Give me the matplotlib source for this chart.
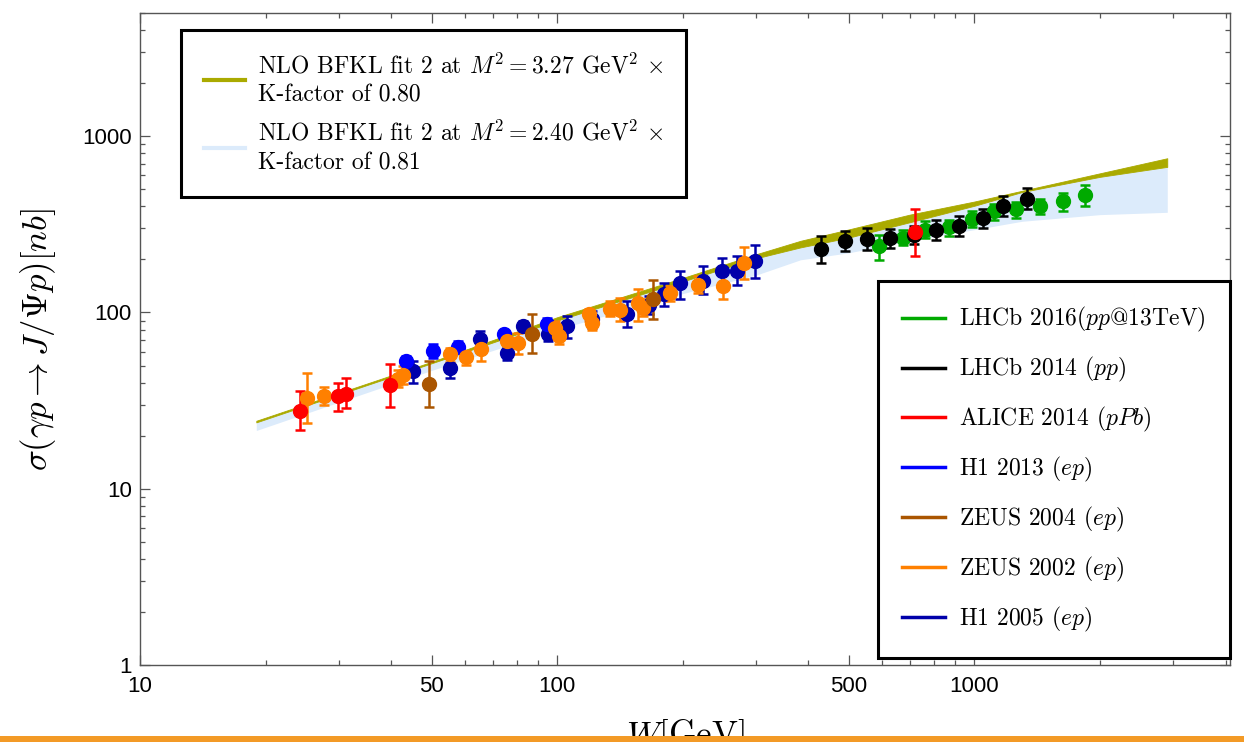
import numpy as np
import matplotlib
matplotlib.use("Agg")
import matplotlib.pyplot as plt
from matplotlib.lines import Line2D
from matplotlib.patches import Rectangle
from matplotlib.ticker import FixedLocator, FixedFormatter, LogLocator, NullFormatter

plt.rcParams["mathtext.fontset"] = "cm"

# theory bands (W in GeV, sigma in nb)
BAND_W   = [19, 50, 100, 200, 300, 383, 500, 700, 1000, 1300, 2000, 2900]
OLIVE_HI = [24.3, 52.5, 94, 157, 214, 255, 296, 359, 426, 490, 616, 750]
OLIVE_LO = [23.8, 51.5, 90, 150, 203, 234, 266, 325, 403, 482, 588, 670]
BLUE_HI  = [23.8, 51.5, 90, 150, 203, 234, 266, 325, 403, 482, 588, 670]
BLUE_LO  = [21.4, 46.9, 80, 128, 163, 199, 218, 255, 295, 329, 359, 370]

# data sets: W, sigma, lower edge, upper edge
H1_2005_W  = [45.2, 55.4, 65.2, 75.6, 83, 95.2, 105.5, 121, 147, 165.6, 179.9, 197.2, 223.4, 248, 270, 298.5]
H1_2005_S  = [46.4, 48.6, 70.3, 59.1, 83.6, 75, 83.6, 91.3, 97.4, 110, 126.5, 147, 150, 171, 171, 195]
H1_2005_LO = [40, 42.6, 63, 54, 78, 68.8, 72, 82, 83, 98, 108.6, 118.6, 126.5, 144, 144, 157]
H1_2005_HI = [53, 51.9, 78, 63, 89, 80, 95, 101.7, 116, 124, 147, 171, 183, 204, 208, 243]

H1_2013_W  = [43.5, 50.4, 58, 74.4, 94.4]
H1_2013_S  = [53, 60.4, 64, 75, 85.5]
H1_2013_LO = [48.6, 55, 59.2, 70.3, 78]
H1_2013_HI = [56.6, 65.9, 68.8, 80, 93.3]

ZEUS02_W  = [25.2, 27.6, 41.5, 42.7, 55.4, 60.5, 65.6, 75.8, 80.7, 99, 101, 118.9, 121, 134, 141.6, 156.6, 160.7, 186.6, 218, 249.6, 279.8]
ZEUS02_S  = [32.6, 33.6, 42, 44, 57.8, 55.8, 62.3, 68.8, 67.3, 81.9, 73.5, 97.4, 87.4, 105, 103, 113.5, 106.7, 129, 144, 141, 191]
ZEUS02_LO = [23.5, 29.7, 38, 39.1, 52.2, 50.1, 53, 61.7, 57.8, 73.5, 65.9, 90, 80, 95, 89, 89, 95, 116, 129, 120, 154]
ZEUS02_HI = [45.5, 37.9, 47, 49.6, 63, 60.4, 71.9, 76.7, 76.7, 89.3, 82, 105, 95, 116, 121, 135, 120, 141, 160, 168, 236]

ZEUS04_W  = [49.4, 86.9, 169.3]
ZEUS04_S  = [39.4, 75, 118.5]
ZEUS04_LO = [29.2, 59, 92]
ZEUS04_HI = [53, 97.4, 152.6]

ALICE_W  = [24.2, 29.9, 31.1, 39.8, 722]
ALICE_S  = [27.6, 33.6, 34.6, 38.6, 285]
ALICE_LO = [21.5, 27.6, 28.8, 29.2, 208]
ALICE_HI = [35.8, 40, 42.3, 50.7, 388]

LHCB14_W  = [428.5, 490.5, 553, 627, 715, 809, 917, 1049, 1172, 1338]
LHCB14_S  = [229.6, 256, 262, 265, 276, 295, 311, 344, 404, 440]
LHCB14_LO = [192, 223, 227, 232, 245, 259, 273, 302, 354, 384]
LHCB14_HI = [270, 289, 302, 298, 310, 336, 354, 387, 456, 509]

LHCB16_W  = [589.5, 674, 760, 867, 988, 1112, 1261, 1435, 1632, 1846]
LHCB16_S  = [237.5, 265, 295, 306, 341, 375, 388, 404, 427, 466]
LHCB16_LO = [199, 240, 265, 272, 306, 336, 343, 364, 374, 404]
LHCB16_HI = [276, 295, 329, 336, 374, 414, 426, 440, 476, 531]

SERIES = [
    (H1_2005_W, H1_2005_S, H1_2005_LO, H1_2005_HI, "#0000aa"),
    (H1_2013_W, H1_2013_S, H1_2013_LO, H1_2013_HI, "#0000ff"),
    (ZEUS02_W, ZEUS02_S, ZEUS02_LO, ZEUS02_HI, "#ff8000"),
    (ZEUS04_W, ZEUS04_S, ZEUS04_LO, ZEUS04_HI, "#aa5500"),
    (LHCB16_W, LHCB16_S, LHCB16_LO, LHCB16_HI, "#00aa00"),
    (LHCB14_W, LHCB14_S, LHCB14_LO, LHCB14_HI, "black"),
    (ALICE_W, ALICE_S, ALICE_LO, ALICE_HI, "#ff0000"),
]

OLIVE = "#aaaa00"
LIGHTBLUE = "#dcebfb"

fig = plt.figure(figsize=(12.44, 7.42), dpi=100)
ax = fig.add_axes([140 / 1244, 77 / 742, 1090 / 1244, 652 / 742])
ax.set_xscale("log")
ax.set_yscale("log")

ax.fill_between(BAND_W, BLUE_LO, BLUE_HI, color=LIGHTBLUE, lw=0, zorder=1)
ax.fill_between(BAND_W, OLIVE_LO, OLIVE_HI, color=OLIVE, lw=0.6, edgecolor=OLIVE, zorder=2)

for w, s, lo, hi, col in SERIES:
    w = np.array(w); s = np.array(s)
    yerr = [s - np.array(lo), np.array(hi) - s]
    ax.errorbar(w, s, yerr=yerr, fmt="o", color=col, ms=10, elinewidth=1.8,
                capsize=3.6, capthick=1.8, zorder=3)

ax.set_xlim(10, 4100)
ax.set_ylim(1, 5000)

ax.xaxis.set_major_locator(FixedLocator([10, 50, 100, 500, 1000]))
ax.xaxis.set_major_formatter(FixedFormatter(["10", "50", "100", "500", "1000"]))
ax.xaxis.set_minor_locator(LogLocator(base=10, subs=np.arange(2, 10)))
ax.xaxis.set_minor_formatter(NullFormatter())
ax.yaxis.set_major_locator(FixedLocator([1, 10, 100, 1000]))
ax.yaxis.set_major_formatter(FixedFormatter(["1", "10", "100", "1000"]))
ax.yaxis.set_minor_locator(LogLocator(base=10, subs=np.arange(2, 10)))
ax.yaxis.set_minor_formatter(NullFormatter())

ax.tick_params(which="both", direction="in", top=True, right=True, color="#555555", width=0.9)
ax.tick_params(which="major", length=7, labelsize=16)
ax.tick_params(which="minor", length=3.5)
ax.tick_params(axis="x", which="major", pad=8)
ax.tick_params(axis="y", which="major", pad=6)
for lab in ax.get_xticklabels() + ax.get_yticklabels():
    lab.set_fontfamily("Liberation Sans")
for sp in ax.spines.values():
    sp.set_color("#555555")
    sp.set_linewidth(1.0)

ax.set_xlabel(r"$W[\mathrm{GeV}]$", fontsize=25, labelpad=14)
ax.set_ylabel(r"$\sigma(\gamma p \rightarrow J/\Psi p)[nb]$", fontsize=25)
ax.yaxis.set_label_coords(-0.075, 0.5)

legfont = {"family": ["cmr10", "DejaVu Serif"], "size": 17}

h1 = [Line2D([], [], color=OLIVE, lw=3), Line2D([], [], color=LIGHTBLUE, lw=3)]
l1 = ["NLO BFKL fit 2 at $M^2 = 3.27$ GeV$^2$ $\\times$\nK-factor of 0.80",
      "NLO BFKL fit 2 at $M^2 = 2.40$ GeV$^2$ $\\times$\nK-factor of 0.81"]
leg1 = ax.legend(h1, l1, loc="upper left", bbox_to_anchor=(0.0376, 0.974), prop=legfont,
                 handlelength=1.75, handletextpad=0.55, labelspacing=0.62, borderpad=0.97,
                 borderaxespad=0, fancybox=False, framealpha=1, edgecolor="black")
for t in leg1.get_texts():
    t.set_linespacing(1.35)
leg1.get_frame().set_linewidth(2.2)
ax.add_artist(leg1)

LEG2_LABELS = ["LHCb 2016$(pp$@13TeV$)$", "LHCb 2014 $(pp)$", "ALICE 2014 $(pPb)$",
               "H1 2013 $(ep)$", "ZEUS 2004 $(ep)$", "ZEUS 2002 $(ep)$", "H1 2005 $(ep)$"]
LEG2_COLORS = ["#00aa00", "black", "#ff0000", "#0000ff", "#aa5500", "#ff8000", "#0000aa"]
h2 = [Line2D([], [], color=c, lw=2.5) for c in LEG2_COLORS]
leg2 = ax.legend(h2, LEG2_LABELS, loc="lower right", bbox_to_anchor=(1.0, 0.0107), prop=legfont,
                 handlelength=1.8, handletextpad=0.6, labelspacing=0.88, borderpad=1.03,
                 borderaxespad=0, fancybox=False, framealpha=1, edgecolor="black")
leg2.get_frame().set_linewidth(2.2)

fig.add_artist(Rectangle((0, 0), 1, 6 / 742, transform=fig.transFigure,
                         facecolor="#f39a26", edgecolor="none", zorder=10))

fig.savefig("out.png", dpi=100)
